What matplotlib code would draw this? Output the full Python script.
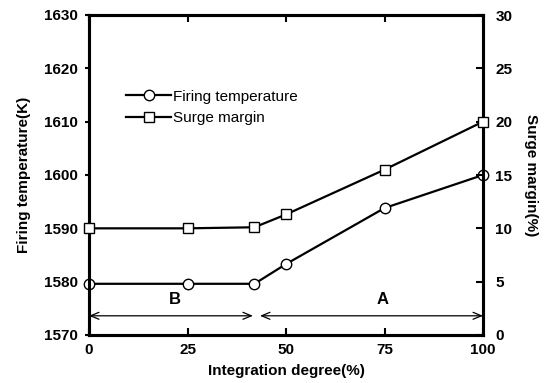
import matplotlib
matplotlib.use("Agg")
from matplotlib import pyplot as plt

plt.rcParams['font.family'] = ['Liberation Sans', 'DejaVu Sans']

# data
integration = [0, 25, 42, 50, 75, 100]
firing_temp = [1579.6, 1579.6, 1579.6, 1583.3, 1593.8, 1600.0]
surge_margin = [10.0, 10.0, 10.1, 11.3, 15.5, 20.0]

region_b = (0, 41.6)
region_a = (43.4, 100)
arrow_y = 1573.6
label_y = 1576.6

fig = plt.figure(figsize=(5.47, 3.83), dpi=100)
ax = fig.add_axes([89 / 547, 48 / 383, 394 / 547, 320 / 383])
ax2 = ax.twinx()

l1, = ax.plot(integration, firing_temp, color='black', lw=1.6, marker='o', ms=7.5,
              mfc='white', mec='black', mew=1.0, clip_on=False, zorder=5,
              label='Firing temperature')
l2, = ax2.plot(integration, surge_margin, color='black', lw=1.6, marker='s', ms=7.5,
               mfc='white', mec='black', mew=1.0, clip_on=False, zorder=5,
               label='Surge margin')

ax.set_xlim(0, 100)
ax.set_ylim(1570, 1630)
ax2.set_ylim(0, 30)
ax.set_xticks([0, 25, 50, 75, 100])
ax.set_yticks(range(1570, 1631, 10))
ax2.set_yticks(range(0, 31, 5))

bold = dict(fontsize=11, fontweight='bold')
ax.set_xticklabels([str(v) for v in [0, 25, 50, 75, 100]], **bold)
ax.set_yticklabels([str(v) for v in range(1570, 1631, 10)], **bold)
ax2.set_yticklabels([str(v) for v in range(0, 31, 5)], **bold)

ax.tick_params(axis='x', direction='in', length=5, width=1.5, top=True, pad=6)
ax.tick_params(axis='y', direction='out', length=3, width=1.5, pad=5)
ax2.tick_params(axis='y', direction='in', length=5, width=1.5, pad=9)

for a in (ax, ax2):
    for s in a.spines.values():
        s.set_linewidth(2.2)

ax.set_xlabel('Integration degree(%)', fontsize=11, fontweight='bold', labelpad=5)
ax.set_ylabel('Firing temperature(K)', fontsize=11, fontweight='bold', labelpad=9)
ax2.set_ylabel('Surge margin(%)', fontsize=11, fontweight='bold', rotation=270, labelpad=18)

arrow = dict(arrowstyle='<->,head_length=0.6,head_width=0.25', color='black', lw=0.9,
             shrinkA=0, shrinkB=0)
ax.annotate('', xy=(region_b[0], arrow_y), xytext=(region_b[1], arrow_y), arrowprops=arrow)
ax.annotate('', xy=(region_a[0], arrow_y), xytext=(region_a[1], arrow_y), arrowprops=arrow)
ax.text(21.8, label_y, 'B', ha='center', va='center', fontsize=12, fontweight='bold')
ax.text(74.6, label_y, 'A', ha='center', va='center', fontsize=12, fontweight='bold')

ax.legend([l1, l2], ['Firing temperature', 'Surge margin'], loc='upper left',
          bbox_to_anchor=(0.058, 0.81), frameon=False, fontsize=11, handlelength=3.0,
          handletextpad=0.1, labelspacing=0.5)

fig.savefig('out.png', dpi=100)
